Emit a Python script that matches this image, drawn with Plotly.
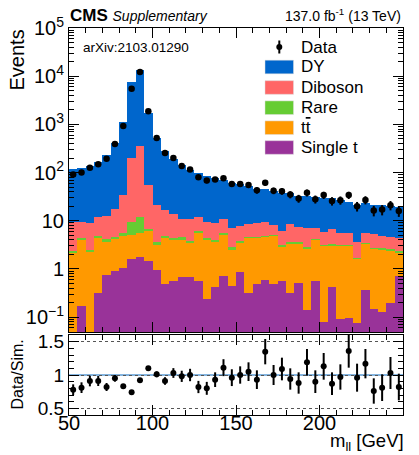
import numpy as np
import plotly.graph_objects as go

# ---------------- data ----------------
bin_edges = list(range(50, 255, 5))
bin_centers = [0.5 * (a + b) for a, b in zip(bin_edges[:-1], bin_edges[1:])]

single_t = [0.0, 0.17, 0.0, 0.31, 0.75, 0.92, 1.03, 1.6, 1.8, 1.47,
            0.95, 0.49, 0.55, 0.69, 0.68, 0.55, 0.24, 0.42, 0.72, 0.45,
            0.88, 0.32, 0.49, 0.59, 0.49, 0.55, 0.31, 0.5, 0.14, 0.56,
            0.08, 0.43, 0.09, 0.095, 0.077, 0.36, 0.15, 0.125, 0.2, 0.72]
ttbar = [2.2, 3.83, 2.2, 3.99, 2.95, 3.38, 3.77, 3.5, 3.7, 4.53,
         2.25, 3.81, 3.45, 3.41, 2.92, 5.25, 3.76, 3.28, 4.48, 2.05,
         2.67, 4.08, 3.91, 4.11, 4.41, 2.35, 2.99, 2.9, 2.46, 3.44,
         2.92, 2.67, 3.01, 2.9, 1.58, 2.94, 2.5, 2.38, 2.2, 1.48]
rare = [0.2, 0.4, 0.25, 0.5, 0.4, 0.4, 0.7, 4.2, 6.7, 0.6,
        0.4, 0.5, 0.4, 0.4, 0.2, 0.2, 0.3, 0.2, 0.3, 0.4,
        0.25, 0.3, 0.3, 0.15, 0.2, 0.2, 0.3, 0.2, 0.3, 0.15,
        0.15, 0.15, 0.1, 0.1, 0.04, 0.2, 0.1, 0.2, 0.15, 0.15]
diboson = [7.2, 5.2, 6.45, 7.0, 8.5, 12.7, 29.5, 194.7, 342.8, 48.4,
           17.4, 11.5, 9.4, 6.1, 7.2, 5.8, 5.2, 5.1, 5.5, 4.2,
           3.9, 3.8, 4.1, 4.55, 3.0, 2.9, 4.8, 3.8, 4.1, 2.85,
           2.55, 3.45, 2.3, 2.4, 1.9, 2.0, 2.55, 2.0, 1.95, 1.95]
dy = [107.4, 114.4, 129.1, 151.2, 223.4, 392.6, 1075, 7196, 12845, 1645,
      494, 263.7, 181.2, 129.4, 104, 85.2, 75.5, 69, 59, 52.9,
      50.3, 43.5, 37.2, 35.6, 33.9, 32, 28.6, 25.6, 25, 24,
      24.3, 22.8, 22, 19.5, 17.4, 17.5, 16.2, 16.3, 16, 15.2]

data = [91, 100, 126, 148, 194, 390, 920, 5480, 12140, 1870,
        520, 255, 200, 137, 115, 80, 68, 72, 76, 58,
        58, 55, 43, 61, 42, 41, 35, 29, 38, 28,
        34, 25.7, 26.7, 34, 20, 27, 16.3, 17, 21, 16]
data_err = [9.5, 10, 11.2, 12.2, 13.9, 19.7, 30.3, 74, 110, 43,
            22.8, 16, 14.1, 11.7, 10.7, 8.9, 8.2, 8.5, 8.7, 7.6,
            7.6, 7.4, 6.6, 7.8, 6.5, 6.4, 5.9, 5.4, 6.2, 5.3,
            5.8, 5.1, 5.2, 5.8, 4.5, 5.2, 4.0, 4.1, 4.6, 4.0]

ratio = [0.78, 0.81, 0.91, 0.91, 0.82, 0.95, 0.83, 0.74, 0.92, 1.10,
         1.01, 0.91, 1.03, 0.98, 1.00, 0.82, 0.80, 0.93, 1.11, 0.96,
         1.00, 1.05, 0.93, 1.35, 1.00, 1.09, 0.94, 0.88, 1.19, 0.90,
         1.13, 0.87, 0.97, 1.36, 0.96, 1.17, 0.76, 0.81, 1.03, 0.82]
ratio_err = [0.08, 0.08, 0.08, 0.075, 0.06, 0.05, 0.03, 0.01, 0.008, 0.025,
             0.044, 0.057, 0.073, 0.084, 0.093, 0.092, 0.097, 0.11, 0.127, 0.126,
             0.13, 0.14, 0.14, 0.19, 0.15, 0.17, 0.16, 0.16, 0.2, 0.17,
             0.2, 0.17, 0.19, 0.25, 0.21, 0.22, 0.19, 0.2, 0.24, 0.2]

processes = ["Single t", "t<span style='text-decoration:overline'>t</span>", "Rare", "Diboson", "DY"]
yields = [single_t, ttbar, rare, diboson, dy]
colors = ["#993399", "#ff9900", "#66cc33", "#ff6666", "#0066cc"]

y_major = [0.1, 1, 10, 100, 1e3, 1e4, 1e5]
y_major_text = ["10<sup>\u22121</sup>", "1", "10", "10<sup>2</sup>", "10<sup>3</sup>",
                "10<sup>4</sup>", "10<sup>5</sup>"]
x_major = [50, 100, 150, 200, 250]
ratio_ticks = [0.5, 1, 1.5]
ratio_ticktext = ["0.5", "1", "1.5"]

FONT = "Liberation Sans, Arial, Helvetica, sans-serif"

# pixel geometry helpers
W, H = 419, 455
L, R, T, B = 69, 403, 28, 415


def px(xp):
    return (xp - L) / (R - L)


def py(yp):
    return (B - yp) / (B - T)


fig = go.Figure()

for name, vals, col in zip(processes, yields, colors):
    fig.add_trace(go.Bar(x=bin_centers, y=vals, width=5, name=name,
                         marker=dict(color=col, line=dict(width=0)),
                         xaxis="x", yaxis="y", showlegend=False))

fig.add_trace(go.Scatter(x=bin_centers, y=data, mode="markers", name="Data",
                         marker=dict(color="black", size=6.5),
                         error_y=dict(type="data", array=data_err, color="black",
                                      thickness=2, width=0),
                         xaxis="x", yaxis="y", showlegend=False))

fig.add_trace(go.Scatter(x=bin_centers, y=ratio, mode="markers", name="ratio",
                         marker=dict(color="black", size=6),
                         error_y=dict(type="data", array=ratio_err, color="black",
                                      thickness=2, width=0),
                         xaxis="x2", yaxis="y2", showlegend=False, cliponaxis=True))

minor_log = [m * 10.0 ** e for e in range(-2, 5) for m in range(2, 10)]

main_dom = [py(332), 1]
ratio_dom = [0, py(335)]

axis_common = dict(showline=True, linecolor="black", linewidth=1, mirror="allticks",
                   ticks="inside", tickcolor="black", ticklen=10, tickwidth=1,
                   showgrid=False, zeroline=False, automargin=False)

fig.update_layout(
    width=W, height=H,
    margin=dict(l=L, r=W - R, t=T, b=H - B, pad=0),
    paper_bgcolor="white", plot_bgcolor="white",
    barmode="stack", bargap=0,
    font=dict(family=FONT, color="black", size=20),
    xaxis=dict(domain=[0, 1], range=[50, 250], anchor="y", tickvals=x_major,
               showticklabels=False,
               minor=dict(dtick=10, tick0=50, ticks="inside", ticklen=5, tickcolor="black"),
               **axis_common),
    yaxis=dict(domain=main_dom, type="log", range=[-1.31, 5], anchor="x",
               tickvals=y_major, ticktext=y_major_text, tickfont=dict(size=20),
               minor=dict(tickmode="array", tickvals=minor_log, ticks="inside",
                          ticklen=5, tickcolor="black"),
               **axis_common),
    xaxis2=dict(domain=[0, 1], range=[50, 250], anchor="y2", matches="x",
                tickvals=x_major, tickfont=dict(size=20), ticklabelstandoff=-10,
                minor=dict(dtick=10, tick0=50, ticks="inside", ticklen=5, tickcolor="black"),
                **axis_common),
    yaxis2=dict(domain=ratio_dom, range=[0.4, 1.6], anchor="x2",
                tickvals=ratio_ticks, ticktext=ratio_ticktext, tickfont=dict(size=19),
                minor=dict(dtick=0.1, tick0=0, ticks="inside", ticklen=5, tickcolor="black"),
                **{k: v for k, v in axis_common.items() if k != "showgrid"},
                showgrid=True, gridcolor="#555555", griddash="dot", gridwidth=1),
)

# ratio reference line
fig.add_shape(type="line", xref="x2", yref="y2", x0=50, x1=250, y0=1, y1=1,
              line=dict(color="#5b9bd5", width=1.5), layer="below")

annotations = []
# axis titles
annotations.append(dict(text="Events", textangle=-90, xref="paper", yref="paper",
                        x=px(3), y=1.0, xanchor="left", yanchor="top",
                        showarrow=False, font=dict(size=20)))
annotations.append(dict(text="Data/Sim.", textangle=-90, xref="paper", yref="paper",
                        x=px(6), y=py(375), xanchor="left", yanchor="middle",
                        showarrow=False, font=dict(size=16)))
annotations.append(dict(text="m<sub>ll</sub> [GeV]", xref="paper", yref="paper",
                        x=px(406), y=py(442), xanchor="right", yanchor="middle",
                        showarrow=False, font=dict(size=18.5)))
# header
annotations.append(dict(text="<b>CMS</b> <i><span style='font-size:14px'>Supplementary</span></i>",
                        xref="paper", yref="paper", x=px(68), y=py(15),
                        xanchor="left", yanchor="middle", showarrow=False,
                        font=dict(size=17)))
annotations.append(dict(text="137.0 fb<sup>-1</sup> (13 TeV)", xref="paper", yref="paper",
                        x=1.0, y=py(15), xanchor="right", yanchor="middle",
                        showarrow=False, font=dict(size=14)))
annotations.append(dict(text="arXiv:2103.01290", xref="paper", yref="paper",
                        x=px(81), y=py(47), xanchor="left", yanchor="middle",
                        showarrow=False, font=dict(size=13.5)))

# legend (drawn manually to match the large colour boxes)
legend_rows = [("Data", None), ("DY", colors[4]), ("Diboson", colors[3]),
               ("Rare", colors[2]), (processes[1], colors[1]), ("Single t", colors[0])]
row_y = [47, 67, 87.5, 107.7, 127.7, 147.5]
for (label, col), yc in zip(legend_rows, row_y):
    annotations.append(dict(text=label, xref="paper", yref="paper", x=px(299), y=py(yc),
                            xanchor="left", yanchor="middle", showarrow=False,
                            font=dict(size=17)))
    if col is None:
        fig.add_shape(type="line", xref="paper", yref="paper", x0=px(279.3), x1=px(279.3),
                      y0=py(yc - 6.5), y1=py(yc + 6.5), line=dict(color="black", width=2))
        fig.add_shape(type="circle", xref="paper", yref="paper", x0=px(276.3), x1=px(282.3),
                      y0=py(yc + 3), y1=py(yc - 3), fillcolor="black",
                      line=dict(color="black", width=0))
    else:
        fig.add_shape(type="rect", xref="paper", yref="paper", x0=px(265), x1=px(293.5),
                      y0=py(yc + 6.8), y1=py(yc - 6.8), fillcolor=col,
                      line=dict(color="#dddddd", width=0.5))

fig.update_layout(annotations=annotations)

fig.write_html("out.html")
